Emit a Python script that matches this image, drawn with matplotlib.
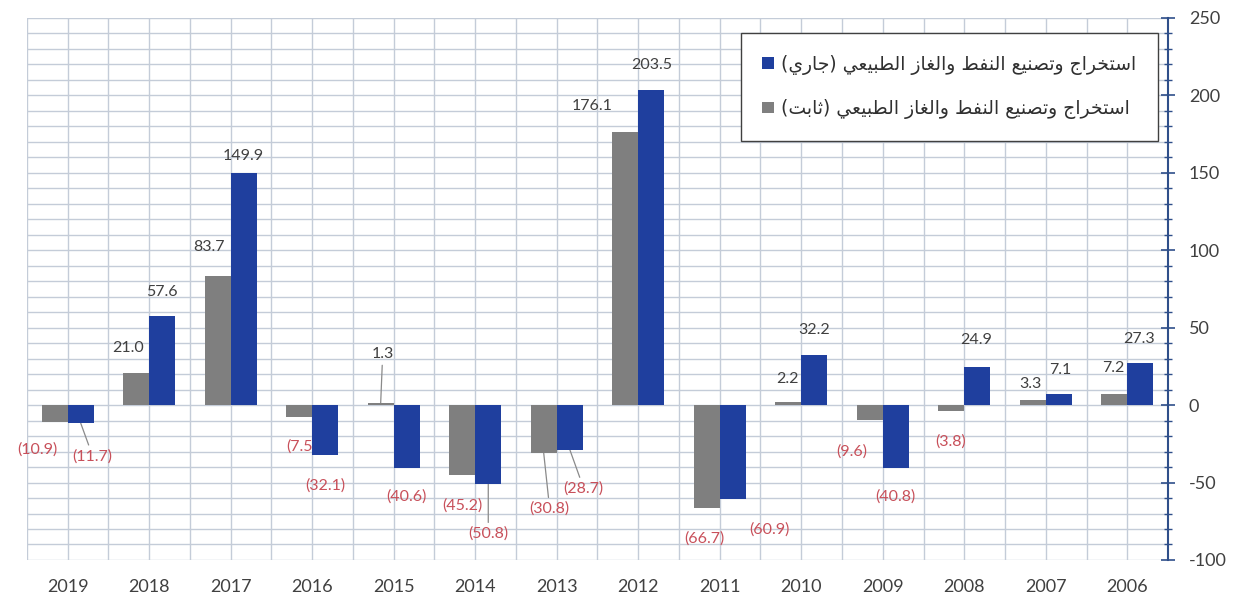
import numpy as np
import matplotlib.pyplot as plt
from matplotlib.ticker import MultipleLocator

# data
years = ["2019", "2018", "2017", "2016", "2015", "2014", "2013",
         "2012", "2011", "2010", "2009", "2008", "2007", "2006"]
constant = [-10.9, 21.0, 83.7, -7.5, 1.3, -45.2, -30.8,
            176.1, -66.7, 2.2, -9.6, -3.8, 3.3, 7.2]
current = [-11.7, 57.6, 149.9, -32.1, -40.6, -50.8, -28.7,
           203.5, -60.9, 32.2, -40.8, 24.9, 7.1, 27.3]
label_current = "استخراج وتصنيع النفط والغاز الطبيعي (جاري)"
label_constant = "استخراج وتصنيع النفط والغاز الطبيعي (ثابت)"

# label offsets (pixels from bar end), and which ones get a leader line
gray_off = [(-17, -28), (-8, 25), (-9, 29), (2, -30), (2, 49), (0, -30), (6, -56),
            (-33, 26), (-2, -30), (-1, 23), (-18, -32), (-1, -31), (-2, 16), (-1, 26)]
blue_off = [(12, -33), (0, 24), (0, 17), (0, -31), (0, -29), (0, -50), (14, -39),
            (0, 25), (37, -30), (0, 25), (0, -28), (-1, 27), (1, 24), (-1, 24)]
gray_leader = [4, 6]
blue_leader = [0, 5, 6]

# minimal arabic shaping -> presentation forms, visual order
FORMS = {
    'ا': ('\uFE8D', '\uFE8E', None, None),
    'ب': ('\uFE8F', '\uFE90', '\uFE91', '\uFE92'),
    'ت': ('\uFE95', '\uFE96', '\uFE97', '\uFE98'),
    'ث': ('\uFE99', '\uFE9A', '\uFE9B', '\uFE9C'),
    'ج': ('\uFE9D', '\uFE9E', '\uFE9F', '\uFEA0'),
    'خ': ('\uFEA5', '\uFEA6', '\uFEA7', '\uFEA8'),
    'ر': ('\uFEAD', '\uFEAE', None, None),
    'ز': ('\uFEAF', '\uFEB0', None, None),
    'س': ('\uFEB1', '\uFEB2', '\uFEB3', '\uFEB4'),
    'ص': ('\uFEB9', '\uFEBA', '\uFEBB', '\uFEBC'),
    'ط': ('\uFEC1', '\uFEC2', '\uFEC3', '\uFEC4'),
    'ع': ('\uFEC9', '\uFECA', '\uFECB', '\uFECC'),
    'غ': ('\uFECD', '\uFECE', '\uFECF', '\uFED0'),
    'ف': ('\uFED1', '\uFED2', '\uFED3', '\uFED4'),
    'ل': ('\uFEDD', '\uFEDE', '\uFEDF', '\uFEE0'),
    'ن': ('\uFEE5', '\uFEE6', '\uFEE7', '\uFEE8'),
    'و': ('\uFEED', '\uFEEE', None, None),
    'ي': ('\uFEF1', '\uFEF2', '\uFEF3', '\uFEF4'),
}


def shape(s):
    out = []
    for i, ch in enumerate(s):
        if ch not in FORMS:
            out.append(ch)
            continue
        prev = s[i - 1] if i > 0 else ''
        nxt = s[i + 1] if i + 1 < len(s) else ''
        jp = prev in FORMS and FORMS[prev][2] is not None
        jn = nxt in FORMS and FORMS[ch][2] is not None
        iso, fin, ini, med = FORMS[ch]
        if jp and jn:
            out.append(med)
        elif jp:
            out.append(fin)
        elif jn:
            out.append(ini)
        else:
            out.append(iso)
    mirror = {'(': ')', ')': '('}
    return ''.join(mirror.get(c, c) for c in reversed(out))


plt.rcParams['font.family'] = ['Lato', 'DejaVu Sans']
plt.rcParams['axes.unicode_minus'] = False

fig = plt.figure(figsize=(12.36, 6), dpi=100)
ax = fig.add_axes([0.0218, 0.0667, 0.9232, 0.9033])

x = np.arange(len(years))
w = 0.32
gray_c = '#7f7f7f'
blue_c = '#1f3f9e'
b1 = ax.bar(x - w / 2, constant, w, color=gray_c, zorder=3, label=shape(label_constant))
b2 = ax.bar(x + w / 2, current, w, color=blue_c, zorder=3, label=shape(label_current))

pos_col = '#404040'
neg_col = '#c8505a'


def fmt(v):
    return f"({abs(v):.1f})" if v < 0 else f"{v:.1f}"


for vals, xs, offs, leaders in [(constant, x - w / 2, gray_off, gray_leader),
                                (current, x + w / 2, blue_off, blue_leader)]:
    for i, v in enumerate(vals):
        ap = None
        if i in leaders:
            ap = dict(arrowstyle='-', color='#8a8a8a', lw=0.9, shrinkA=1, shrinkB=0)
        ax.annotate(fmt(v), xy=(xs[i], v), xytext=offs[i], textcoords='offset pixels',
                    ha='center', va='center', fontsize=11.5,
                    color=neg_col if v < 0 else pos_col, zorder=2, arrowprops=ap)

ax.set_xlim(-0.5, len(years) - 0.5)
ax.set_ylim(-100, 250)

ax.set_xticks(x)
ax.set_xticklabels(years)
ax.tick_params(axis='x', length=0, labelsize=13, labelcolor='#404040', pad=14)

ax.yaxis.tick_right()
ax.yaxis.set_major_locator(MultipleLocator(50))
ax.yaxis.set_minor_locator(MultipleLocator(10))
ax.tick_params(axis='y', which='major', direction='inout', length=10, width=1.2,
               color='#2f4f8a', labelsize=13, labelcolor='#404040', pad=10)
ax.tick_params(axis='y', which='minor', direction='inout', length=6, width=1,
               color='#2f4f8a')

for s in ['left', 'top', 'bottom']:
    ax.spines[s].set_visible(False)
ax.spines['right'].set_color('#2f4f8a')
ax.spines['right'].set_linewidth(1.5)

# grid: horizontal every 10, vertical every half category
for yv in np.arange(-100, 251, 10):
    ax.axhline(yv, color='#c4ccd8', lw=1, zorder=0)
for xv in np.arange(-0.5, len(years), 0.5):
    ax.axvline(xv, color='#c4ccd8', lw=1, zorder=0)

leg = ax.legend(handles=[b2, b1], loc='upper right', bbox_to_anchor=(0.991, 0.972),
                borderaxespad=0, prop={'family': 'DejaVu Sans', 'size': 13.5},
                handlelength=0.6, handleheight=0.6, handletextpad=0.4,
                labelspacing=1.3, borderpad=1.15, fancybox=False, framealpha=1,
                edgecolor='#404040')
leg.get_frame().set_linewidth(1)
for t in leg.get_texts():
    t.set_color('#303030')
leg.set_zorder(5)

fig.savefig('out.png', dpi=100)
